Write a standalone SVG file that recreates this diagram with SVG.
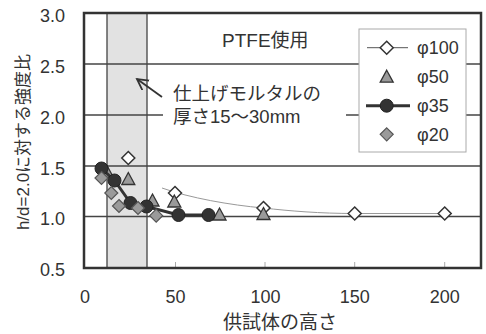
<svg xmlns="http://www.w3.org/2000/svg" width="486" height="334" viewBox="0 0 486 334">
<style>
text{font-family:"Liberation Sans","Noto Sans CJK JP",sans-serif;fill:#333}
.t18{font-size:18px}
.grid{stroke:#444;stroke-width:1.5;fill:none}
.tick{stroke:#aaa;stroke-width:1}
.d100{fill:#fff;stroke:#333;stroke-width:1.5}
.d50{fill:#9a9a9a;stroke:#333;stroke-width:1.3}
.d35{fill:#333;stroke:#222;stroke-width:1}
.d20{fill:#9a9a9a;stroke:#555;stroke-width:1.2}
</style>
<defs>
<marker id="arr" markerUnits="userSpaceOnUse" markerWidth="14" markerHeight="14" refX="11" refY="6" orient="auto">
<path d="M0,0 L11,6 L0,12" fill="none" stroke="#333" stroke-width="1.8"/>
</marker>
<path id="dia" d="M0,-6.5 L6.5,0 L0,6.5 L-6.5,0 Z"/>
<path id="tri" d="M0,-6.5 L6.5,5.5 L-6.5,5.5 Z"/>
</defs>
<rect width="486" height="334" fill="#fff"/>
<g id="plotarea">
<rect x="107" y="13" width="40" height="255" fill="#e2e2e2" stroke="#444" stroke-width="1.3"/>
<line class="grid" x1="84" y1="64" x2="481" y2="64"/>
<line class="grid" x1="84" y1="115" x2="481" y2="115"/>
<line class="grid" x1="84" y1="166" x2="481" y2="166"/>
<line class="grid" x1="84" y1="216.5" x2="481" y2="216.5"/>
<line class="tick" x1="175.5" y1="262" x2="175.5" y2="268"/>
<line class="tick" x1="265" y1="262" x2="265" y2="268"/>
<line class="tick" x1="354.7" y1="262" x2="354.7" y2="268"/>
<line class="tick" x1="444.7" y1="262" x2="444.7" y2="268"/>
<rect x="84" y="13" width="397" height="255" fill="none" stroke="#333" stroke-width="2.5"/>
</g>
<g id="axis-labels">
<text class="t18" x="65" y="22" text-anchor="end">3.0</text>
<text class="t18" x="65" y="73" text-anchor="end">2.5</text>
<text class="t18" x="65" y="124" text-anchor="end">2.0</text>
<text class="t18" x="65" y="175" text-anchor="end">1.5</text>
<text class="t18" x="65" y="225" text-anchor="end">1.0</text>
<text class="t18" x="65" y="276" text-anchor="end">0.5</text>
<text class="t18" x="85" y="303" text-anchor="middle">0</text>
<text class="t18" x="175.5" y="303" text-anchor="middle">50</text>
<text class="t18" x="265.5" y="303" text-anchor="middle">100</text>
<text class="t18" x="354.7" y="303" text-anchor="middle">150</text>
<text class="t18" x="444.7" y="303" text-anchor="middle">200</text>
<text x="280" y="329" text-anchor="middle" font-size="19">供試体の高さ</text>
<text transform="translate(29,142) rotate(-90)" text-anchor="middle" font-size="17">h/d=2.0に対する強度比</text>
</g>
<g id="annotation">
<rect x="163" y="82" width="183" height="46" fill="#fff"/>
<text x="222" y="47" font-size="19">PTFE使用</text>
<text x="173" y="100" font-size="18.5">仕上げモルタルの</text>
<text x="173" y="123" font-size="18.5">厚さ15～30mm</text>
</g>
<g id="connectors">
<line x1="162" y1="97" x2="137" y2="79" stroke="#333" stroke-width="1.8" marker-end="url(#arr)"/>
</g>
<g id="series-phi100">
<path d="M162,188 C190,198 230,205 263.5,208 C290,211 320,213.5 354.7,213.5 L444.7,213.5" fill="none" stroke="#999" stroke-width="1"/>
<use href="#dia" class="d100" x="128.3" y="158"/>
<use href="#dia" class="d100" x="175" y="193"/>
<use href="#dia" class="d100" x="263.5" y="208"/>
<use href="#dia" class="d100" x="354.7" y="213.5"/>
<use href="#dia" class="d100" x="444.7" y="213.5"/>
</g>
<g id="series-phi50">
<use href="#tri" class="d50" x="107" y="172"/>
<use href="#tri" class="d50" x="128.3" y="179"/>
<use href="#tri" class="d50" x="152.5" y="200.5"/>
<use href="#tri" class="d50" x="174.3" y="201.5"/>
<use href="#tri" class="d50" x="219.5" y="214.5"/>
<use href="#tri" class="d50" x="263.5" y="214"/>
</g>
<g id="series-phi35">
<polyline points="101.5,168.5 114.5,180.5 130.5,203 146.5,206.5 178.5,215 208.5,215" fill="none" stroke="#333" stroke-width="3"/>
<circle class="d35" cx="101.5" cy="168.5" r="6.5"/>
<circle class="d35" cx="114.5" cy="180.5" r="6.5"/>
<circle class="d35" cx="130.5" cy="203" r="6.5"/>
<circle class="d35" cx="146.5" cy="206.5" r="6.5"/>
<circle class="d35" cx="178.5" cy="215" r="6.5"/>
<circle class="d35" cx="208.5" cy="215" r="6.5"/>
</g>
<g id="series-phi20">
<use href="#dia" class="d20" x="101.5" y="178"/>
<use href="#dia" class="d20" x="111.3" y="193"/>
<use href="#dia" class="d20" x="119" y="206"/>
<use href="#dia" class="d20" x="138" y="208"/>
<use href="#dia" class="d20" x="156.2" y="215.7"/>
</g>
<g id="legend">
<rect x="359" y="29" width="107" height="123" fill="#fff" stroke="#aaa" stroke-width="1"/>
<line x1="367" y1="47.7" x2="408" y2="47.7" stroke="#555" stroke-width="1"/>
<use href="#dia" class="d100" x="386.7" y="47.7"/>
<use href="#tri" class="d50" x="386.7" y="76.7"/>
<line x1="366" y1="105.7" x2="410" y2="105.7" stroke="#333" stroke-width="3"/>
<circle class="d35" cx="386.7" cy="105.7" r="6.5"/>
<use href="#dia" class="d20" x="386.7" y="134.3"/>
<text class="t18" x="417" y="54">φ100</text>
<text class="t18" x="417" y="83">φ50</text>
<text class="t18" x="417" y="112">φ35</text>
<text class="t18" x="417" y="141">φ20</text>
</g>
</svg>
